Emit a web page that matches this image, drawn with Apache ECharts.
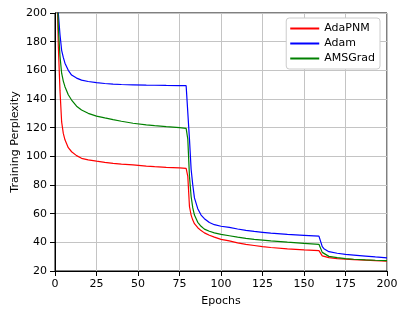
<!DOCTYPE html>
<html>
<head>
<meta charset="utf-8">
<script src="https://cdn.jsdelivr.net/npm/echarts@6/dist/echarts.min.js"></script>
<style>
html,body{margin:0;padding:0;background:#fff;}
#chart{width:407px;height:316px;}
</style>
</head>
<body>
<div id="chart"></div>
<script>
var epochs = [1,2,3,4,5,6,8,10,13,16,20,25,30,35,40,47,55,60,67,75,79,80,81,82,83,84,86,88,90,93,96,100,105,110,115,120,125,130,140,150,159,160,161,162,165,170,175,180,187,193,200];
var adapnm = [230,177,146,124,116,111.5,106,103.2,100.5,98.6,97.5,96.6,95.8,95.1,94.5,94.0,93.2,92.8,92.3,91.9,91.6,86,65,59,55.5,53,50.2,48.2,46.6,44.9,43.6,42.1,41,39.6,38.6,37.8,37,36.4,35.4,34.7,34.2,33.6,30.6,30.1,29.3,28.7,28.3,28,27.6,27.2,26.9];
var adam = [240,200,185,174,169,165,160,156.7,154.6,153.2,152.2,151.4,150.8,150.4,150.1,149.9,149.7,149.6,149.5,149.4,149.3,149.2,112,91,80,71,63.5,59,56.5,53.8,52.3,51.2,50.4,49.3,48.3,47.6,47.0,46.4,45.5,44.9,44.3,43.7,37,35.6,33.5,32.4,31.6,31.1,30.4,29.8,29.2];
var amsgrad = [235,190,170,158,152.5,148.6,143,139.3,135,132.3,130,128.1,126.8,125.6,124.5,123.1,122,121.4,120.7,120,119.5,112,86,72,64,59,54,51.2,49.2,47.7,46.6,45.5,44.6,43.6,42.7,42.1,41.6,41,40.1,39.3,38.6,38,33,32.2,30.2,29.3,28.6,28.2,27.8,27.5,27.3];
var seriesNames = ['AdaPNM','Adam','AMSGrad'];
var seriesColors = ['#ff0000','#0000ff','#008000'];
var xTicks = {min:0, max:200, interval:25};
var yTicks = {min:20, max:200, interval:20};

function pairs(vals){ return epochs.map(function(e,i){ return [e, vals[i]]; }); }
var allVals = [adapnm, adam, amsgrad];

var chart = echarts.init(document.getElementById('chart'), null, {renderer:'canvas'});
var font = 'DejaVu Sans';
var fs = 11;
chart.setOption({
  animation:false,
  backgroundColor:'#fff',
  grid:{left:55, right:20, top:13, bottom:45, containLabel:false, outerBoundsMode:'none', show:true, borderColor:'#000', borderWidth:1, backgroundColor:'transparent'},
  legend:{
    orient:'vertical', right:27, top:18,
    backgroundColor:'#fff', borderColor:'#cccccc', borderWidth:1, borderRadius:3,
    padding:[5,5,5,4], itemGap:4, itemWidth:29, itemHeight:2,
    textStyle:{fontFamily:font, fontSize:fs, color:'#000'},
    data: seriesNames.map(function(n){ return {name:n, icon:'rect'}; })
  },
  xAxis:{
    type:'value', min:xTicks.min, max:xTicks.max, interval:xTicks.interval,
    name:'Epochs', nameLocation:'middle', nameGap:25, nameMoveOverlap:false,
    nameTextStyle:{fontFamily:font, fontSize:fs, color:'#000'},
    axisLine:{show:true, lineStyle:{color:'#000', width:1}},
    axisTick:{show:true, length:5, lineStyle:{color:'#000'}},
    axisLabel:{fontFamily:font, fontSize:fs, color:'#000', margin:8},
    splitLine:{show:true, lineStyle:{color:'#c4c4c4', width:1}}
  },
  yAxis:{
    type:'value', min:yTicks.min, max:yTicks.max, interval:yTicks.interval,
    name:'Training Perplexity', nameLocation:'middle', nameGap:34, nameMoveOverlap:false,
    nameTextStyle:{fontFamily:font, fontSize:fs, color:'#000'},
    axisLine:{show:true, lineStyle:{color:'#000', width:1}},
    axisTick:{show:true, length:5, lineStyle:{color:'#000'}},
    axisLabel:{fontFamily:font, fontSize:fs, color:'#000', margin:8},
    splitLine:{show:true, lineStyle:{color:'#c4c4c4', width:1}}
  },
  series: seriesNames.map(function(n,i){
    return {
      name:n, type:'line', data:pairs(allVals[i]), showSymbol:false, symbol:'none',
      clip:true, color:seriesColors[i],
      lineStyle:{color:seriesColors[i], width:1.2},
      itemStyle:{color:seriesColors[i]}
    };
  })
});
</script>
</body>
</html>
